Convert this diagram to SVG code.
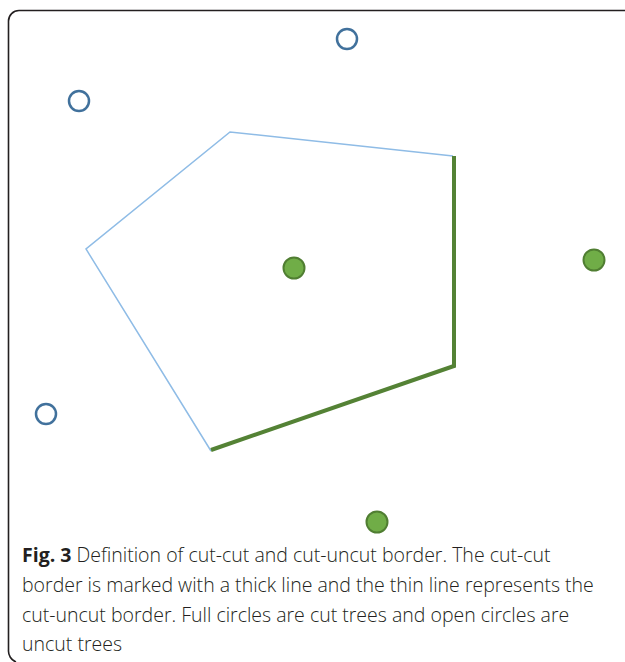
<svg xmlns="http://www.w3.org/2000/svg" width="625" height="662" viewBox="0 0 625 662">
<style>
.open{fill:none;stroke:#41719c;stroke-width:2.5}
.full{fill:#70ad47;stroke:#507e32;stroke-width:2}
.thin{fill:none;stroke:#8fbce6;stroke-width:1.5;stroke-linejoin:miter}
.thick{fill:none;stroke:#548235;stroke-width:4;stroke-linejoin:miter}
.cap{font-family:"Open Sans","Liberation Sans",sans-serif;font-size:19.5px;fill:#231f20;font-weight:300}
</style>
<rect width="625" height="662" fill="#fff"/>
<path d="M640,10.5 H19 A10.5,10.5 0 0 0 8.5,21 V650 A12,12 0 0 0 16,662" fill="none" stroke="#231f20" stroke-width="1.6"/>
<g id="connectors">
<polyline class="thin" points="453,156 230,132 86,249 211,451"/>
<polyline class="thick" points="454,156 454,366 211,450"/>
</g>
<g id="uncut1"><circle class="open" cx="347" cy="39" r="10"/></g>
<g id="uncut2"><circle class="open" cx="79" cy="101" r="10"/></g>
<g id="uncut3"><circle class="open" cx="46" cy="414" r="10"/></g>
<g id="cut1"><circle class="full" cx="294" cy="268" r="10.5"/></g>
<g id="cut2"><circle class="full" cx="594" cy="260" r="10.5"/></g>
<g id="cut3"><circle class="full" cx="377" cy="522" r="10.5"/></g>
<g id="caption" class="cap">
<text x="22" y="562"><tspan font-weight="700">Fig. 3</tspan> Definition of cut-cut and cut-uncut border. The cut-cut</text>
<text x="22" y="592">border is marked with a thick line and the thin line represents the</text>
<text x="22" y="622">cut-uncut border. Full circles are cut trees and open circles are</text>
<text x="22" y="651">uncut trees</text>
</g>
</svg>
